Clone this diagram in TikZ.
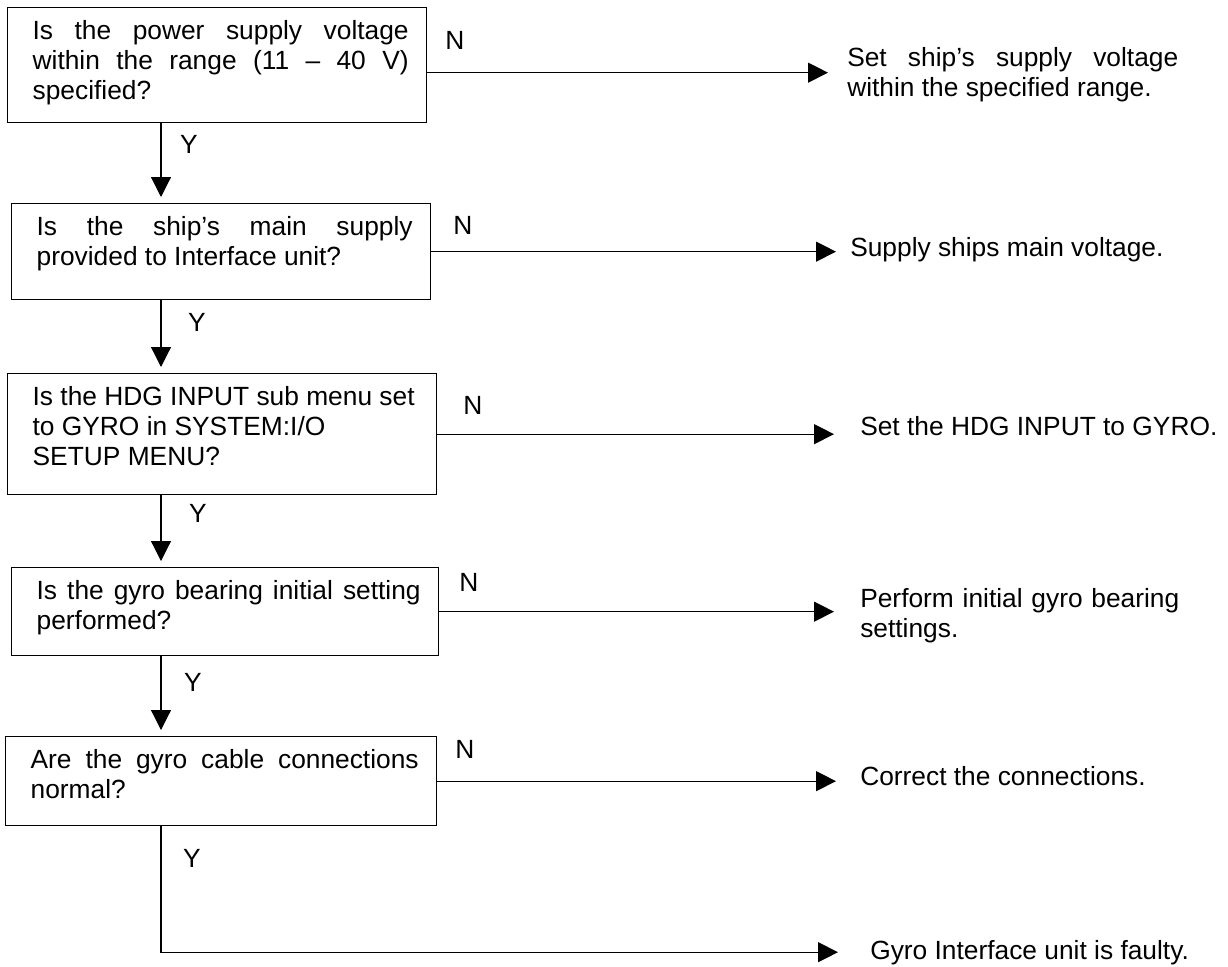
\documentclass[tikz,border=0pt]{standalone}
\usepackage{fontspec}
\setmainfont{Liberation Sans}
\usetikzlibrary{arrows.meta}

\newlength{\px}
\setlength{\px}{0.75pt}
% question text: height, width, text
\newcommand{\qtext}[3]{\hspace*{25\px}\parbox[t][#1\px][t]{#2\px}{#3}\hspace*{18\px}}

\tikzset{
  qbox/.style={draw, line width=1pt, anchor=north west, inner xsep=0pt, inner ysep=9.75pt},
  act/.style={anchor=base west, inner sep=0pt},
  yn/.style={inner sep=0pt},
  flow/.style={line width=0.9pt, -{Triangle[length=15pt,width=15pt]}},
}

\begin{document}
\begin{tikzpicture}[x=0.75pt,y=0.75pt,yscale=-1,xscale=1,font=\fontsize{19.75}{22.5}\selectfont]
\path[use as bounding box] (0,0) rectangle (1228,967);
\coordinate (spine) at (161,0);

%Shape: Rectangle
\node[qbox] (pwr) at (7,7) {\qtext{89}{376}{Is the power supply voltage\linebreak within the range (11 – 40 V)\linebreak specified?}};
%Shape: Rectangle
\node[qbox] (mains) at (11,203) {\qtext{70}{376}{Is the ship’s main supply\linebreak provided to Interface unit?}};
%Shape: Rectangle
\node[qbox] (hdg) at (7,373) {\qtext{95}{386}{Is the HDG INPUT sub menu set\\to GYRO in SYSTEM:I/O\\SETUP MENU?}};
%Shape: Rectangle
\node[qbox] (brg) at (11,567) {\qtext{62}{384}{Is the gyro bearing initial setting\linebreak performed?}};
%Shape: Rectangle
\node[qbox] (cable) at (5,736) {\qtext{63}{388}{Are the gyro cable connections\linebreak normal?}};

% Text Node
\node[act, text width=248.25pt, align=justify] (setv) at (847,66) {Set ship’s supply voltage\linebreak within the specified range.};
% Text Node
\node[act] (supply) at (850,256) {Supply ships main voltage.};
% Text Node
\node[act] (sethdg) at (860,435) {Set the HDG INPUT to GYRO.};
% Text Node
\node[act, text width=255pt, align=left] (initbrg) at (860,607) {Perform initial gyro bearing\\settings.};
% Text Node
\node[act] (fixconn) at (860,785) {Correct the connections.};
% Text Node
\node[act] (faulty) at (870,959) {Gyro Interface unit is faulty.};

%Straight Lines
\coordinate (pwrout) at ([yshift=5.625pt]pwr.east);
\draw[flow, shorten >=14.25pt] (pwrout) -- (pwrout -| setv.west);
\draw[flow, shorten >=10.5pt] (mains.east) -- (mains.east -| supply.west);
\draw[flow, shorten >=19.5pt] (hdg.east) -- (hdg.east -| sethdg.west);
\draw[flow, shorten >=19.5pt] (brg.east) -- (brg.east -| initbrg.west);
\draw[flow, shorten >=18pt] (cable.east) -- (cable.east -| fixconn.west);

%Straight Lines
\draw[flow, shorten >=4.5pt] (pwr.south -| spine) -- (mains.north -| spine);
\draw[flow, shorten >=4.5pt] (mains.south -| spine) -- (hdg.north -| spine);
\draw[flow, shorten >=4.5pt] (hdg.south -| spine) -- (brg.north -| spine);
\draw[flow, shorten >=4.5pt] (brg.south -| spine) -- (cable.north -| spine);
\draw[flow, shorten >=24pt] (cable.south -| spine) |- (faulty.west);

% Text Node
\node[yn] (n1) at (455,40) {N};
\node[yn] (n2) at (463,225) {N};
\node[yn] (n3) at (473,405) {N};
\node[yn] (n4) at (469,582) {N};
\node[yn] (n5) at (465,749) {N};
% Text Node
\node[yn] (y1) at (189,144) {Y};
\node[yn] (y2) at (197,322) {Y};
\node[yn] (y3) at (198,513) {Y};
\node[yn] (y4) at (193,682) {Y};
\node[yn] (y5) at (192,858) {Y};

\end{tikzpicture}
\end{document}
